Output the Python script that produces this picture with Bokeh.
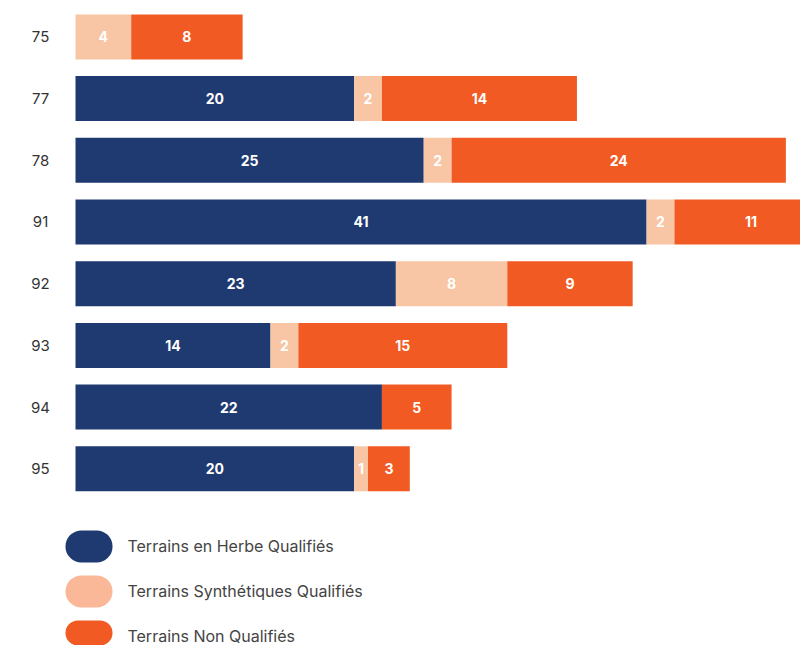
import numpy as np
from bokeh.plotting import figure
from bokeh.models import Range1d
from bokeh.core.properties import value
from bokeh.embed import file_html
from bokeh.resources import INLINE

# ---- data ----
departements = ["75", "77", "78", "91", "92", "93", "94", "95"]
herbe = [0, 20, 25, 41, 23, 14, 22, 20]
synthetique = [4, 2, 2, 2, 8, 2, 0, 1]
non_qualifies = [8, 14, 24, 11, 9, 15, 5, 3]
series_names = ["Terrains en Herbe Qualifiés",
                "Terrains Synthétiques Qualifiés",
                "Terrains Non Qualifiés"]
colors = ["#1f3a71", "#f8c6a5", "#f15a22"]
legend_colors = ["#1f3a71", "#fab898", "#f15a22"]

FONT = "Inter"

p = figure(width=800, height=645, output_backend="svg", toolbar_location=None,
           x_range=Range1d(-5.384, 52.05), y_range=Range1d(9.864, -0.590),
           x_axis_location=None, y_axis_location=None,
           min_border=0, min_border_left=0, min_border_right=0,
           min_border_top=0, min_border_bottom=0)
p.grid.visible = False
p.outline_line_color = None
p.background_fill_color = "white"
p.border_fill_color = "white"

ys = np.arange(len(departements))
series = [herbe, synthetique, non_qualifies]
left = np.zeros(len(departements))
lab_x, lab_y, lab_t = [], [], []
for vals, col in zip(series, colors):
    v = np.array(vals, dtype=float)
    right = left + v
    p.hbar(y=ys, left=left, right=right, height=0.73, fill_color=col,
           line_color=None)
    for i in range(len(v)):
        if v[i] > 0:
            lab_x.append((left[i] + right[i]) / 2)
            lab_y.append(ys[i])
            lab_t.append(str(int(v[i])))
    left = right

p.text(x=lab_x, y=lab_y, text=lab_t, text_align="center",
       text_baseline="middle", text_color="white",
       text_font=value(FONT), text_font_style="bold", text_font_size="14px")

# category labels
p.text(x=[-2.51] * len(departements), y=ys, text=departements,
       text_align="center", text_baseline="middle", text_color="#333333",
       text_font=value(FONT), text_font_size="15px")

# legend (drawn manually, pill-shaped swatches)
leg_y = [8.259, 8.988, 9.718]
p.hbar(y=leg_y, left=-0.72, right=2.66, height=0.52, fill_color=legend_colors,
       line_color=None, border_radius=16)
p.text(x=[3.73] * 3, y=leg_y, text=series_names, text_align="left",
       text_baseline="middle", text_color="#444444",
       text_font=value(FONT), text_font_size="16px")

open("out.html", "w").write(file_html(p, INLINE))
